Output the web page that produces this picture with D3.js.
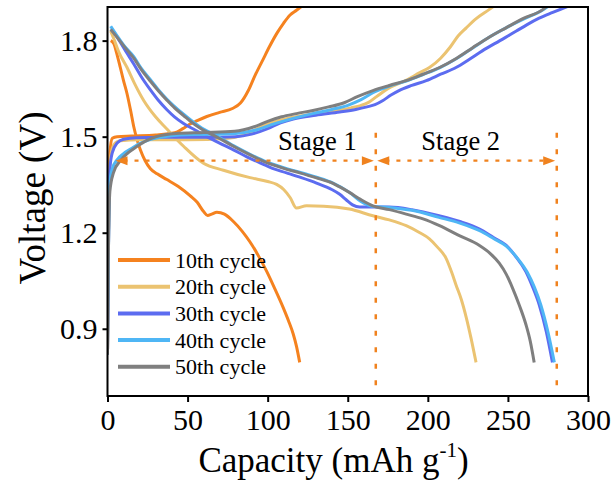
<!DOCTYPE html>
<html><head><meta charset="utf-8">
<script src="https://cdn.jsdelivr.net/npm/d3@7"></script>
<style>body{margin:0;background:#fff}svg text{font-family:"Liberation Serif","Times New Roman",serif;fill:#000}</style>
</head><body><svg id="c" width="614" height="484"></svg>
<script>
const seriesNames = ["10th cycle","20th cycle","30th cycle","40th cycle","50th cycle"];
const seriesColors = ["#F5821F","#EBC371","#5C6CF0","#4FB6F5","#7F7F7F"];
const xTicks = [0,50,100,150,200,250,300];
const yTicks = [0.9,1.2,1.5,1.8];

// charge curves [capacity, voltage]
const charge10 = [[0,0.82],[0.8,1.3],[1.5,1.45],[3,1.495],[6,1.5],[15,1.502],[30,1.505],[42,1.512],[47,1.525],[51,1.538],[56,1.55],[62,1.563],[70,1.576],[78,1.588],[83,1.605],[88,1.645],[92,1.69],[97,1.74],[101,1.78],[106,1.825],[110,1.855],[114,1.88],[118,1.895],[122,1.91]];
const charge20 = [[0,0.82],[0.8,1.3],[2,1.44],[4,1.475],[8,1.487],[20,1.49],[50,1.49],[75,1.495],[85,1.505],[100,1.54],[115,1.56],[130,1.572],[145,1.583],[152,1.59],[158,1.597],[163,1.607],[168,1.625],[175,1.65],[186,1.675],[195,1.7],[201,1.716],[208,1.745],[214,1.78],[219,1.815],[224,1.84],[230,1.868],[238,1.896],[242,1.91]];
const charge30 = [[0,0.82],[0.8,1.25],[1.5,1.4],[3,1.45],[6,1.48],[10,1.492],[18,1.497],[40,1.498],[60,1.498],[80,1.5],[90,1.508],[100,1.525],[108,1.543],[116,1.555],[130,1.567],[145,1.577],[155,1.585],[162,1.593],[167,1.6],[172,1.613],[177,1.63],[182,1.644],[190,1.66],[199,1.675],[208,1.695],[217.6,1.716],[226,1.742],[234,1.768],[245,1.8],[255,1.829],[262,1.85],[269.5,1.87],[278,1.888],[289,1.91]];
const charge40 = [[0,0.82],[0.5,1.1],[1.5,1.36],[3,1.4],[6,1.428],[10,1.447],[15,1.463],[20,1.478],[26,1.49],[35,1.5],[45,1.505],[60,1.507],[80,1.51],[92,1.52],[104,1.54],[116,1.557],[128,1.572],[140,1.585],[150,1.598],[158,1.615],[166,1.638],[176,1.658],[186.5,1.674],[197,1.694],[207.3,1.715],[218,1.744],[228,1.777],[238,1.81],[248.8,1.84],[260,1.868],[271.5,1.895],[276,1.91]];
const charge50 = [[0,0.82],[0.5,1.1],[1.5,1.33],[3.7,1.387],[8.5,1.428],[13,1.45],[18.3,1.469],[24,1.487],[30.5,1.5],[42.8,1.51],[60,1.513],[79.4,1.517],[91.6,1.531],[100,1.548],[108.7,1.562],[118,1.572],[128.3,1.582],[138,1.593],[147.8,1.606],[156,1.625],[165.7,1.644],[176,1.66],[186.5,1.675],[197,1.695],[207.3,1.716],[218,1.745],[228,1.778],[238,1.81],[248.8,1.84],[260,1.87],[271.5,1.896],[275,1.91]];

// discharge curves
const discharge10 = [[2,1.8],[4,1.79],[5.5,1.765],[8,1.716],[10,1.675],[12.2,1.634],[14.5,1.58],[16.4,1.531],[18.5,1.49],[20.5,1.459],[23.5,1.425],[26.8,1.4],[31,1.384],[37.1,1.366],[44,1.345],[51.7,1.315],[56,1.295],[60,1.266],[62.5,1.254],[65,1.258],[68.3,1.264],[73,1.258],[78.6,1.235],[84,1.205],[89,1.171],[94,1.13],[99.4,1.079],[104,1.03],[109.7,0.966],[113,0.925],[116,0.883],[118,0.845],[120,0.795]];
const discharge20 = [[2,1.83],[4,1.805],[7,1.765],[12.2,1.716],[17,1.665],[22.6,1.613],[30,1.562],[37.1,1.524],[47.5,1.47],[59.9,1.417],[72.4,1.395],[89,1.372],[100,1.36],[105.6,1.351],[110,1.335],[114,1.31],[118,1.277],[124.3,1.284],[135,1.283],[151,1.274],[165.7,1.253],[176,1.24],[186.5,1.222],[195,1.2],[201,1.181],[206,1.155],[211.4,1.12],[215,1.075],[217.6,1.037],[221,0.99],[224,0.935],[227,0.87],[230.1,0.795]];
const discharge30 = [[2,1.835],[4,1.826],[8,1.795],[12,1.762],[16.4,1.727],[21,1.688],[26.8,1.646],[32,1.612],[37.1,1.584],[42,1.561],[47.5,1.541],[55,1.52],[62,1.5],[70,1.48],[78.6,1.459],[87,1.437],[95.2,1.418],[103,1.401],[111.8,1.387],[121,1.372],[130.5,1.355],[140,1.335],[145,1.32],[149,1.303],[153,1.287],[157.5,1.28],[165,1.28],[176,1.28],[190,1.272],[207,1.253],[220,1.235],[232,1.212],[241,1.185],[248.8,1.161],[255,1.125],[261.2,1.079],[265.5,1.03],[269.5,0.976],[274,0.89],[277.8,0.795]];
const discharge40 = [[2,1.845],[6,1.815],[11,1.78],[16.4,1.75],[21,1.714],[26.8,1.678],[32,1.645],[37.1,1.617],[47.5,1.57],[57.9,1.53],[68.3,1.502],[78.6,1.472],[89,1.445],[99.4,1.421],[110,1.403],[120,1.389],[130,1.374],[140.8,1.355],[151,1.326],[158,1.298],[165,1.283],[176,1.279],[190,1.27],[207,1.248],[220,1.23],[232,1.207],[241,1.182],[249,1.158],[256,1.12],[262,1.077],[266.5,1.03],[270.5,0.975],[275,0.89],[279,0.795]];
const discharge50 = [[2,1.835],[6,1.81],[11,1.778],[16.4,1.745],[21,1.71],[26.8,1.673],[32,1.642],[37.1,1.614],[42,1.589],[47.5,1.566],[52,1.547],[57.9,1.526],[68.3,1.499],[78.6,1.47],[89,1.443],[99.4,1.419],[110,1.401],[120,1.387],[130,1.372],[140.8,1.354],[145,1.343],[151,1.326],[158,1.304],[165.7,1.284],[176,1.272],[186.5,1.258],[197,1.243],[207.3,1.222],[220,1.19],[232,1.161],[239,1.135],[244.6,1.105],[249,1.07],[252.9,1.027],[257,0.975],[261.2,0.914],[264,0.86],[266.4,0.795]];

const chargeData = [charge10,charge20,charge30,charge40,charge50];
const dischargeData = [discharge10,discharge20,discharge30,discharge40,discharge50];

// stage annotation values
const stageLevel = 1.425;
const stageBounds = [5, 167.5, 280.5];
const stageLabels = ["Stage 1","Stage 2"];
const stageLabelX = [131, 220.5];

const svg = d3.select("#c");
const L = 107.5, R = 588, T = 7, B = 396;
const x = d3.scaleLinear().domain([0,300]).range([L,R]);
const y = d3.scaleLinear().domain([0.69,1.905]).range([B,T]);

svg.append("defs").append("clipPath").attr("id","clip")
  .append("rect").attr("x",L).attr("y",T).attr("width",R-L).attr("height",B-T);

const line = d3.line().x(d=>x(d[0])).y(d=>y(d[1])).curve(d3.curveMonotoneX);
const g = svg.append("g").attr("clip-path","url(#clip)");

const orange = "#F0821E";
const ann = svg.append("g");
[stageBounds[1], stageBounds[2]].forEach(v=>{
  ann.append("line").attr("x1",x(v)).attr("x2",x(v)).attr("y1",y(1.512)).attr("y2",B)
    .attr("stroke",orange).attr("stroke-width",2.5).attr("stroke-dasharray","5,11.5");
});
function hseg(a,b){
  ann.append("line").attr("x1",x(a)).attr("x2",x(b)).attr("y1",y(stageLevel)).attr("y2",y(stageLevel))
    .attr("stroke",orange).attr("stroke-width",2.2).attr("stroke-dasharray","4,7");
}
hseg(stageBounds[0]+5, stageBounds[1]-5);
hseg(stageBounds[1]+6, stageBounds[2]-5);
function arrow(tip, dir){
  const tx = x(tip), ty = y(stageLevel);
  ann.append("path").attr("d",`M${tx},${ty} L${tx-dir*12},${ty-4.5} L${tx-dir*12},${ty+4.5} Z`).attr("fill",orange);
}
arrow(stageBounds[0], -1);
arrow(stageBounds[1]-1.2, 1);
arrow(stageBounds[1]+0.9, -1);
arrow(stageBounds[2]-1, 1);
stageLabels.forEach((s,i)=>{
  svg.append("text").attr("x",x(stageLabelX[i])).attr("y",150).attr("text-anchor","middle")
    .attr("font-size",26.5).text(s);
});

for(let i=0;i<5;i++){
  g.append("path").datum(chargeData[i]).attr("d",line).attr("fill","none")
    .attr("stroke",seriesColors[i]).attr("stroke-width",3).attr("stroke-linejoin","round");
  g.append("path").datum(dischargeData[i]).attr("d",line).attr("fill","none")
    .attr("stroke",seriesColors[i]).attr("stroke-width",3).attr("stroke-linejoin","round");
}

svg.append("rect").attr("x",L).attr("y",T).attr("width",R-L).attr("height",B-T)
  .attr("fill","none").attr("stroke","#000").attr("stroke-width",2);

const xAxis = svg.append("g").attr("transform",`translate(0,${B})`)
  .call(d3.axisBottom(x).tickValues(xTicks).tickSize(6).tickPadding(8).tickFormat(d3.format("d")));
const yAxis = svg.append("g").attr("transform",`translate(${L},0)`)
  .call(d3.axisLeft(y).tickValues(yTicks).tickSize(5).tickPadding(5).tickFormat(d3.format(".1f")));
[xAxis,yAxis].forEach(a=>{
  a.attr("font-family",null);
  a.select(".domain").remove();
  a.selectAll(".tick line").attr("stroke","#000").attr("stroke-width",2);
  a.selectAll(".tick text").attr("font-size",30).attr("fill","#000");
});
xAxis.selectAll(".tick text").attr("dy",null).attr("y",34);

const xt = svg.append("text").attr("x",(200+467)/2).attr("y",472).attr("text-anchor","middle").attr("font-size",35);
xt.append("tspan").text("Capacity (mAh g");
xt.append("tspan").attr("font-size",21).attr("dy",-15).text("-1");
xt.append("tspan").attr("dy",15).text(")");
svg.append("text").attr("transform","translate(45,198) rotate(-90)").attr("text-anchor","middle")
  .attr("font-size",37).text("Voltage (V)");

const lg = svg.append("g");
seriesNames.forEach((n,i)=>{
  const ly = 260 + i*26.7;
  lg.append("line").attr("x1",118).attr("x2",170).attr("y1",ly).attr("y2",ly)
    .attr("stroke",seriesColors[i]).attr("stroke-width",4);
  lg.append("text").attr("x",175).attr("y",ly+7.5).attr("font-size",22).text(n);
});
</script></body></html>
